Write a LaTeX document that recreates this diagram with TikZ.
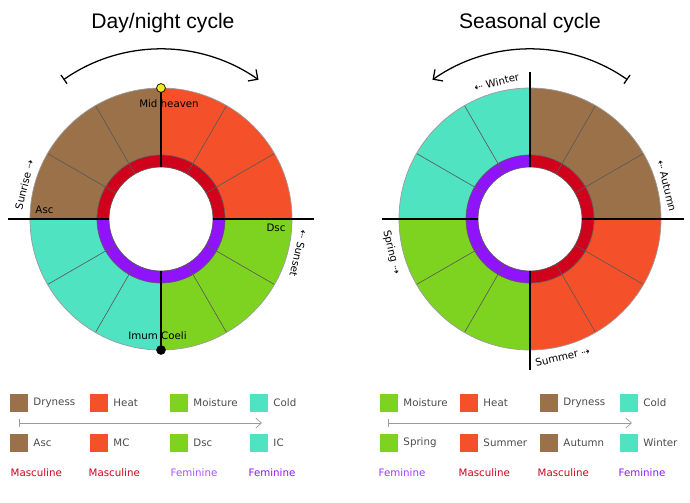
\documentclass[tikz,border=0pt]{standalone}
\usepackage{fontspec}
\setmainfont{DejaVu Sans}
\newfontfamily\titlefont{Liberation Sans}
\usetikzlibrary{arrows.meta,positioning}
\definecolor{dry}{HTML}{9A7149}
\definecolor{heat}{HTML}{F4502A}
\definecolor{moist}{HTML}{7ED321}
\definecolor{cold}{HTML}{50E3C2}
\definecolor{masc}{HTML}{D0021B}
\definecolor{fem}{HTML}{9013FE}
\definecolor{textgrey}{HTML}{4A4A4A}
\definecolor{rimgrey}{HTML}{9B9B9B}
\definecolor{sun}{HTML}{F8E71C}

\begin{document}
\begin{tikzpicture}[x=0.025cm,y=0.025cm,
  every node/.style={font=\fontsize{7.3}{9}\selectfont,inner sep=1pt},
  title/.style={font=\titlefont\fontsize{15}{18}\selectfont,anchor=base},
  divider/.style={draw=black!65,line width=0.45pt},
  axisline/.style={line width=0.9pt},
  rim/.style={draw=rimgrey,line width=0.5pt},
  dot/.style={circle,draw,line width=0.5pt,inner sep=0pt,minimum size=0.22cm},
  cyclearr/.style={line width=0.9pt,{Bar[width=7.5pt]}-{Straight Barb[length=5pt,width=10pt]}},
  legarr/.style={rimgrey,line width=0.5pt,{Bar[width=5pt]}-{Straight Barb[length=4pt,width=7pt]}},
  swatch/.style={inner sep=0pt,minimum size=0.45cm},
  legtxt/.style={text=textgrey,right=2.5pt of #1},
  sextxt/.style={anchor=west}
]
\useasboundingbox (0,0) rectangle (690,502);

% Titles
\node[title] (daytitle) at (163,473) {Day/night cycle};
\node[title] (seatitle) at (530,473) {Seasonal cycle};

% Day/night wheel
\begin{scope}[shift={(161,283)}]
  \foreach \a/\col in {0/heat,90/dry,180/cold,270/moist}
    \fill[\col] (\a:64) -- (\a:131) arc[start angle=\a,delta angle=90,radius=131]
      -- (\a+90:64) arc[start angle=\a+90,delta angle=-90,radius=64] -- cycle;
  \fill[masc] (0:52) -- (0:64) arc[start angle=0,delta angle=180,radius=64]
    -- (180:52) arc[start angle=180,delta angle=-180,radius=52] -- cycle;
  \fill[fem] (180:52) -- (180:64) arc[start angle=180,delta angle=180,radius=64]
    -- (0:52) arc[start angle=0,delta angle=-180,radius=52] -- cycle;
  \foreach \t in {30,60,120,150,210,240,300,330}
    \draw[divider] (\t:52) -- (\t:131);
  \draw[divider] (0,0) circle[radius=52] (0,0) circle[radius=64];
  \draw[rim] (0,0) circle[radius=131];
  \draw[axisline] (-153,0) -- (-52,0) (52,0) -- (153,0)
    (0,52) -- (0,131) (0,-52) -- (0,-131);
  \node[dot,fill=sun] (mcdot) at (0,131) {};
  \node[dot,fill=black] (icdot) at (0,-131) {};
  \node (midheaven) at (8,115) {Mid heaven};
  \node (asc) at (-116.5,9) {Asc};
  \node (dsc) at (115,-9) {Dsc};
  \node (imumcoeli) at (-3.5,-117) {Imum Coeli};
  \node[rotate=76,anchor=base] (sunrise) at (166:137) {Sunrise ⇢};
  \node[rotate=-103.5,anchor=base] (sunset) at (-14:138) {⇠ Sunset};
  \coordinate (dnstart) at (125:170);
  \draw[cyclearr] (dnstart) arc[start angle=125,end angle=55,radius=170];
\end{scope}

% Seasonal wheel
\begin{scope}[shift={(530,283)}]
  \foreach \a/\col in {0/dry,90/cold,180/moist,270/heat}
    \fill[\col] (\a:64) -- (\a:131) arc[start angle=\a,delta angle=90,radius=131]
      -- (\a+90:64) arc[start angle=\a+90,delta angle=-90,radius=64] -- cycle;
  \fill[masc] (-90:52) -- (-90:64) arc[start angle=-90,delta angle=180,radius=64]
    -- (90:52) arc[start angle=90,delta angle=-180,radius=52] -- cycle;
  \fill[fem] (90:52) -- (90:64) arc[start angle=90,delta angle=180,radius=64]
    -- (270:52) arc[start angle=270,delta angle=-180,radius=52] -- cycle;
  \foreach \t in {30,60,120,150,210,240,300,330}
    \draw[divider] (\t:52) -- (\t:131);
  \draw[divider] (0,0) circle[radius=52] (0,0) circle[radius=64];
  \draw[rim] (0,0) circle[radius=131];
  \draw[axisline] (-148,0) -- (-52,0) (52,0) -- (154,0)
    (0,52) -- (0,147) (0,-52) -- (0,-151);
  \node[rotate=13.7,anchor=base] (winter) at (103.7:137) {⇠ Winter};
  \node[rotate=-76.4,anchor=base] (autumn) at (13.6:137) {⇠ Autumn};
  \node[rotate=-76.5,anchor=north] (spring) at (193.5:136) {Spring ⇢};
  \node[rotate=13.3,anchor=north] (summer) at (283.3:136) {Summer ⇢};
  \coordinate (sestart) at (55:170);
  \draw[cyclearr] (sestart) arc[start angle=55,end angle=125,radius=170];
\end{scope}

% Legend -- day/night
\node[swatch,fill=dry]   (dq1) at (19,99) {};
\node[swatch,fill=heat]  (dq2) at (99,99) {};
\node[swatch,fill=moist] (dq3) at (179,99) {};
\node[swatch,fill=cold]  (dq4) at (259,99) {};
\node[legtxt=dq1] (dt1) {Dryness};
\node[legtxt=dq2] (dt2) {Heat};
\node[legtxt=dq3] (dt3) {Moisture};
\node[legtxt=dq4] (dt4) {Cold};
\coordinate (dla) at (19,79);
\coordinate (dlb) at (262,79);
\draw[legarr] (dla) -- (dlb);
\node[swatch,fill=dry]   (dp1) at (19,59) {};
\node[swatch,fill=heat]  (dp2) at (99,59) {};
\node[swatch,fill=moist] (dp3) at (179,59) {};
\node[swatch,fill=cold]  (dp4) at (259,59) {};
\node[legtxt=dp1] (ds1) {Asc};
\node[legtxt=dp2] (ds2) {MC};
\node[legtxt=dp3] (ds3) {Dsc};
\node[legtxt=dp4] (ds4) {IC};
\node[sextxt,text=masc]   (dg1) at (9,29.5) {Masculine};
\node[sextxt,text=masc]   (dg2) at (87,29.5) {Masculine};
\node[sextxt,text=fem!75] (dg3) at (169,29.5) {Feminine};
\node[sextxt,text=fem]    (dg4) at (247,29.5) {Feminine};

% Legend -- seasons
\node[swatch,fill=moist] (sq1) at (389,99) {};
\node[swatch,fill=heat]  (sq2) at (469,99) {};
\node[swatch,fill=dry]   (sq3) at (549,99) {};
\node[swatch,fill=cold]  (sq4) at (629,99) {};
\node[legtxt=sq1] (st1) {Moisture};
\node[legtxt=sq2] (st2) {Heat};
\node[legtxt=sq3] (st3) {Dryness};
\node[legtxt=sq4] (st4) {Cold};
\coordinate (sla) at (388,79);
\coordinate (slb) at (632,79);
\draw[legarr] (sla) -- (slb);
\node[swatch,fill=moist] (sp1) at (389,59) {};
\node[swatch,fill=heat]  (sp2) at (469,59) {};
\node[swatch,fill=dry]   (sp3) at (549,59) {};
\node[swatch,fill=cold]  (sp4) at (629,59) {};
\node[legtxt=sp1] (ss1) {Spring};
\node[legtxt=sp2] (ss2) {Summer};
\node[legtxt=sp3] (ss3) {Autumn};
\node[legtxt=sp4] (ss4) {Winter};
\node[sextxt,text=fem!85] (sg1) at (377,29.5) {Feminine};
\node[sextxt,text=masc]   (sg2) at (457,29.5) {Masculine};
\node[sextxt,text=masc]   (sg3) at (536,29.5) {Masculine};
\node[sextxt,text=fem]    (sg4) at (617,29.5) {Feminine};
\end{tikzpicture}
\end{document}
